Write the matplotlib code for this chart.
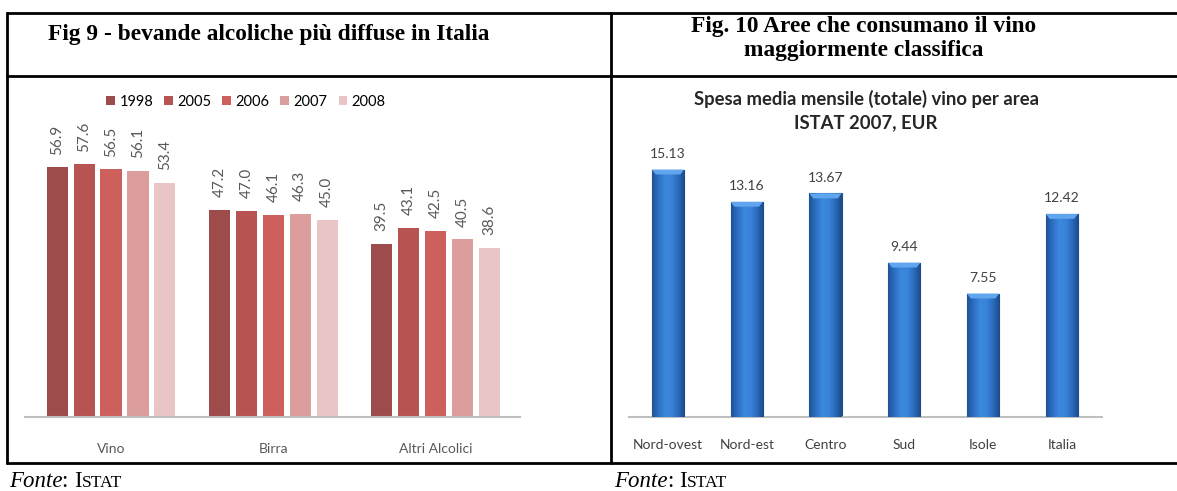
import numpy as np
import matplotlib
matplotlib.use("Agg")
import matplotlib.pyplot as plt
from matplotlib.lines import Line2D
from matplotlib.patches import Patch
from matplotlib.colors import LinearSegmentedColormap

# ---- data -------------------------------------------------------------
drink_categories = ["Vino", "Birra", "Altri Alcolici"]
years = ["1998", "2005", "2006", "2007", "2008"]
drink_values = {
    "1998": [56.9, 47.2, 39.5],
    "2005": [57.6, 47.0, 43.1],
    "2006": [56.5, 46.1, 42.5],
    "2007": [56.1, 46.3, 40.5],
    "2008": [53.4, 45.0, 38.6],
}
year_colors = ["#9d4b4b", "#b75451", "#cd605d", "#dc9d9d", "#e9c5c5"]

areas = ["Nord-ovest", "Nord-est", "Centro", "Sud", "Isole", "Italia"]
spesa = [15.13, 13.16, 13.67, 9.44, 7.55, 12.42]

title_left = "Fig 9 - bevande alcoliche più diffuse in Italia"
title_right = ["Fig. 10 Aree che consumano il vino", "maggiormente classifica"]
chart_title = "Spesa media mensile (totale) vino per area\nISTAT 2007, EUR"

# ---- figure -----------------------------------------------------------
W, H = 1177, 491
fig = plt.figure(figsize=(W / 100, H / 100), dpi=100)
fig.patch.set_facecolor("white")


def fx(x):
    return x / W


def fy(y):
    return 1 - y / H


def axes_px(x0, y0, x1, y1):
    return fig.add_axes([fx(x0), fy(y1), (x1 - x0) / W, (y1 - y0) / H])


SANS = ["Lato", "DejaVu Sans"]
SERIF = ["Liberation Serif", "DejaVu Serif"]
GREY = "#595959"

# ---- table frame ------------------------------------------------------
lw = 2.0
for (x0, y0, x1, y1) in [(6, 13, W, 13), (6, 76, W, 76), (6, 463, W, 463),
                         (7, 12, 7, 464), (611, 12, 611, 464)]:
    fig.add_artist(Line2D([fx(x0), fx(x1)], [fy(y0), fy(y1)],
                          color="black", lw=lw, solid_capstyle="butt"))

HEAD = 16.8
fig.text(fx(269), fy(40), title_left, ha="center", va="baseline",
         family=SERIF, weight="bold", fontsize=HEAD)
fig.text(fx(864), fy(32), title_right[0], ha="center", va="baseline",
         family=SERIF, weight="bold", fontsize=HEAD)
fig.text(fx(864), fy(56), title_right[1], ha="center", va="baseline",
         family=SERIF, weight="bold", fontsize=HEAD)

# ---- left chart: grouped bars ----------------------------------------
axL = axes_px(25, 110, 520, 417)
n = len(years)
step = 0.166
width = 0.13
xg = np.arange(len(drink_categories))
for i, (yr, col) in enumerate(zip(years, year_colors)):
    pos = xg + (i - (n - 1) / 2) * step
    vals = drink_values[yr]
    axL.bar(pos, vals, width=width, color=col, zorder=2)
    for p, v in zip(pos, vals):
        axL.annotate(f"{v:.1f}", (p, v), xytext=(0, 9), textcoords="offset points",
                     ha="center", va="bottom", rotation=90, color=GREY,
                     family=SANS, fontsize=11)
axL.set_xlim(-0.53, 2.52)
axL.set_ylim(0, 70)
for s in ["top", "right", "left"]:
    axL.spines[s].set_visible(False)
axL.spines["bottom"].set_color("#bfbfbf")
axL.spines["bottom"].set_linewidth(1.5)
axL.set_yticks([])
axL.set_xticks(xg)
axL.set_xticklabels(drink_categories, family=SANS, fontsize=10, color=GREY)
axL.tick_params(axis="x", length=0, pad=18.5)
axL.patch.set_alpha(0)

handles = [Patch(facecolor=c, edgecolor="none") for c in year_colors]
fig.legend(handles, years, loc="center", bbox_to_anchor=(fx(246), fy(102)),
           ncol=5, frameon=False, handlelength=0.6, handleheight=0.6,
           handletextpad=0.3, columnspacing=0.75,
           prop={"family": SANS, "size": 10.5})

# ---- right chart: cylinder-like bars ---------------------------------
axR = axes_px(629, 139, 1102, 417)
xr = np.arange(len(areas))
bars = axR.bar(xr, spesa, width=0.41, color="#2f77cc", edgecolor="#1d4f8f",
               linewidth=0.8, zorder=2)
shade = LinearSegmentedColormap.from_list(
    "cyl", ["#1f5398", "#2c70c3", "#3b88de", "#3984d9", "#2b6abb", "#1c4a8a"])
grad = np.linspace(0, 1, 64).reshape(1, -1)
for b in bars:
    x0, y0 = b.get_x(), b.get_y()
    w, h = b.get_width(), b.get_height()
    im = axR.imshow(grad, cmap=shade, aspect="auto", zorder=3,
                    extent=[x0, x0 + w, y0, y0 + h], interpolation="bicubic")
    im.set_clip_path(b)
    cap = 0.3
    axR.fill([x0, x0 + w, x0 + w * 0.88, x0 + w * 0.12],
             [y0 + h, y0 + h, y0 + h - cap, y0 + h - cap],
             color="#5fa6ee", zorder=4, lw=0)
    axR.annotate(f"{h:.2f}", (x0 + w / 2, y0 + h), xytext=(0, 7),
                 textcoords="offset points", ha="center", va="bottom",
                 color="#404040", family=SANS, fontsize=10)
axR.set_xlim(-0.495, 5.51)
axR.set_ylim(0, 17)
for s in ["top", "right", "left"]:
    axR.spines[s].set_visible(False)
axR.spines["bottom"].set_color("#bfbfbf")
axR.spines["bottom"].set_linewidth(1.5)
axR.set_yticks([])
axR.set_xticks(xr)
axR.set_xticklabels(areas, family=SANS, fontsize=10, color="#404040")
axR.tick_params(axis="x", length=0, pad=16)
axR.patch.set_alpha(0)

fig.text(fx(866), fy(111), chart_title, ha="center", va="center",
         family=SANS, weight="bold", fontsize=13.3, color="#262626",
         linespacing=1.45)

# ---- source notes -----------------------------------------------------
fig.canvas.draw()
renderer = fig.canvas.get_renderer()


def source_note(x, y):
    parts = [("Fonte", "italic", 16.5), (": ", "normal", 16.5),
             ("I", "normal", 16.5), ("STAT", "normal", 12.5)]
    cur = x
    for txt, style, size in parts:
        t = fig.text(fx(cur), fy(y), txt, ha="left", va="baseline",
                     family=SERIF, style=style, fontsize=size)
        cur += t.get_window_extent(renderer).width


source_note(9, 487)
source_note(614, 487)

fig.savefig("out.png", dpi=100, facecolor="white")
